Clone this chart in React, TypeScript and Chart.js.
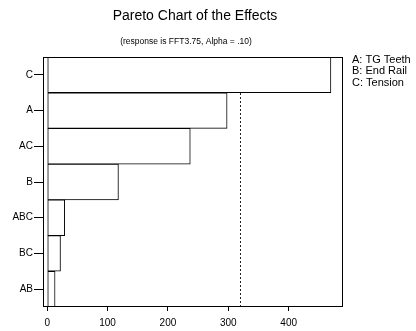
import React, { useEffect, useRef } from "react";
import { Chart, registerables } from "chart.js";

Chart.register(...registerables);

const categories = ["C", "A", "AC", "B", "ABC", "BC", "AB"];
const effects = [470, 298, 237, 118, 29, 22, 13];
const xTicks = [0, 100, 200, 300, 400];
const referenceValue = 319;
const titleText = "Pareto Chart of the Effects";
const subtitleText = "(response is FFT3.75, Alpha = .10)";
const factorNames = ["A: TG Teeth", "B: End Rail", "C: Tension"];

const FONT = "'Liberation Sans', Arial, sans-serif";

const decorPlugin = {
  id: "decor",
  beforeDatasetsDraw(chart: any) {
    const { ctx, chartArea, scales } = chart;
    ctx.save();
    const x = Math.round(scales.x.getPixelForValue(referenceValue)) + 0.5;
    ctx.strokeStyle = "#222";
    ctx.lineWidth = 1;
    ctx.setLineDash([2, 2]);
    ctx.beginPath();
    ctx.moveTo(x, chartArea.top);
    ctx.lineTo(x, chartArea.bottom);
    ctx.stroke();
    ctx.restore();
  },
  afterDraw(chart: any) {
    const { ctx, chartArea } = chart;
    ctx.save();
    ctx.strokeStyle = "#000";
    ctx.lineWidth = 1;
    ctx.setLineDash([]);
    ctx.strokeRect(
      Math.round(chartArea.left) + 0.5,
      Math.round(chartArea.top) + 0.5,
      Math.round(chartArea.right - chartArea.left) - 1,
      Math.round(chartArea.bottom - chartArea.top) - 1
    );
    ctx.fillStyle = "#000";
    ctx.textAlign = "center";
    ctx.textBaseline = "middle";
    ctx.font = `14px ${FONT}`;
    ctx.fillText(titleText, 195, 16);
    ctx.font = `8.5px ${FONT}`;
    ctx.fillText(subtitleText, 186, 42);
    ctx.textAlign = "left";
    ctx.font = `11px ${FONT}`;
    factorNames.forEach((t, i) => ctx.fillText(t, 352, 60 + i * 11.3));
    ctx.restore();
  },
};

export default function App() {
  const ref = useRef<HTMLCanvasElement>(null);
  useEffect(() => {
    if (!ref.current) return;
    const chart = new Chart(ref.current, {
      type: "bar",
      data: {
        labels: categories,
        datasets: [
          {
            data: effects,
            backgroundColor: "#ffffff",
            borderColor: "#000",
            borderWidth: 1,
            borderSkipped: false,
            barPercentage: 1,
            categoryPercentage: 1,
          },
        ],
      },
      options: {
        indexAxis: "y",
        animation: false,
        responsive: false,
        layout: { padding: { top: 57, right: 73, left: 0, bottom: 0 } },
        plugins: {
          legend: { display: false },
          title: { display: false },
          tooltip: { enabled: false },
        },
        scales: {
          x: {
            type: "linear",
            min: -7,
            max: 490,
            afterFit: (s: any) => {
              s.height = 24;
            },
            afterBuildTicks: (s: any) => {
              s.ticks = xTicks.map((v) => ({ value: v }));
            },
            ticks: {
              includeBounds: false,
              color: "#000",
              font: { family: FONT, size: 10 },
              padding: 6,
              maxRotation: 0,
            },
            grid: {
              drawOnChartArea: false,
              drawTicks: true,
              tickLength: 4,
              color: "#000",
            },
            border: { display: false },
          },
          y: {
            type: "category",
            afterFit: (s: any) => {
              s.width = 43;
            },
            ticks: {
              color: "#000",
              font: { family: FONT, size: 10 },
              padding: 1,
            },
            grid: {
              drawOnChartArea: false,
              drawTicks: true,
              tickLength: 9,
              color: "#000",
              offset: false,
            },
            border: { display: false },
          },
        },
      },
      plugins: [decorPlugin],
    });
    return () => chart.destroy();
  }, []);
  return (
    <div style={{ position: "fixed", left: 0, top: 0, width: 416, height: 331, background: "#fff" }}>
      <canvas ref={ref} width={416} height={331} style={{ display: "block" }} />
    </div>
  );
}
